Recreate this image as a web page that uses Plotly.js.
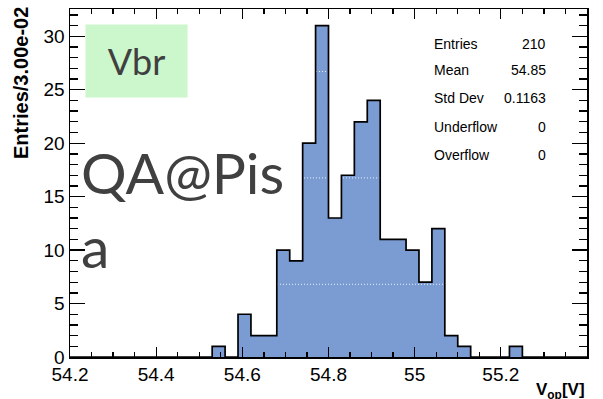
<!DOCTYPE html>
<html>
<head>
<meta charset="utf-8">
<script src="https://cdn.plot.ly/plotly-3.0.1.min.js"></script>
<style>html,body{margin:0;padding:0;background:#fff;}#chart{width:603px;height:399px;}</style>
</head>
<body>
<div id="chart"></div>
<script>
// Histogram definition: 40 bins of width 0.03 from 54.2 to 55.4
const xMin = 54.2;
const binWidth = 0.03;
const counts = [0,0,0,0,0, 0,0,0,0,0, 0,1,0,4,2, 2,10,9,20,31, 13,17,22,24,11, 11,10,7,12,2, 1,0,0,0,1, 0,0,0,0,0];
const statLabels = ["Entries", "Mean", "Std Dev", "Underflow", "Overflow"];
const statValues = ["210", "54.85", "0.1163", "0", "0"];
const xTickVals = [54.2, 54.4, 54.6, 54.8, 55, 55.2, 55.4];
const yTickVals = [0, 5, 10, 15, 20, 25, 30];
const dottedY = [6.8, 16.75, 26.7];

const edges = [];
for (let i = 0; i <= counts.length; i++) edges.push(+(xMin + i * binWidth).toFixed(4));
const stepY = counts.concat([counts[counts.length - 1]]);

const L = 70, R = 587, T = 9, B = 357;
const px = x => (x - L) / (R - L);
const py = y => (B - y) / (B - T);

const dx = [], dy = [];
dottedY.forEach(v => { dx.push(edges[0], edges[edges.length - 1], null); dy.push(v, v, null); });

const traces = [
  {x: edges, y: stepY, type: 'scatter', mode: 'lines', line: {shape: 'hv', width: 0, color: 'rgba(0,0,0,0)'},
   fill: 'tozeroy', fillcolor: '#7b9bd3', hoverinfo: 'skip', showlegend: false},
  {x: dx, y: dy, type: 'scatter', mode: 'lines', line: {color: 'rgba(255,255,255,0.85)', width: 1, dash: '1px,2px'},
   hoverinfo: 'skip', showlegend: false},
  {x: edges, y: stepY, type: 'scatter', mode: 'lines', line: {shape: 'hv', width: 1.7, color: '#000'},
   hoverinfo: 'skip', showlegend: false}
];

const sansFont = 'Liberation Sans, Arial, Helvetica, sans-serif';
const annotations = [];
const rowY = [44, 70, 98, 126.5, 155];
statLabels.forEach((lab, i) => {
  annotations.push({xref: 'paper', yref: 'paper', x: px(432), y: py(rowY[i]), xanchor: 'left', yanchor: 'middle',
    text: lab, showarrow: false, font: {family: sansFont, size: 14, color: '#000'}});
  annotations.push({xref: 'paper', yref: 'paper', x: px(548), y: py(rowY[i]), xanchor: 'right', yanchor: 'middle',
    text: statValues[i], showarrow: false, font: {family: sansFont, size: 14, color: '#000'}});
});
annotations.push({xref: 'paper', yref: 'paper', x: px(136.5), y: py(61), xanchor: 'center', yanchor: 'middle',
  text: 'Vbr', showarrow: false, width: 101, height: 72, bgcolor: '#ccf6cc', borderpad: 0,
  font: {family: 'Lato, sans-serif', size: 36, color: '#404040'}});
annotations.push({xref: 'paper', yref: 'paper', x: px(79), y: py(172), xanchor: 'left', yanchor: 'middle',
  text: 'QA@Pis', showarrow: false, font: {family: 'Lato, sans-serif', size: 57, color: '#404040'}});
annotations.push({xref: 'paper', yref: 'paper', x: px(79), y: py(246), xanchor: 'left', yanchor: 'middle',
  text: 'a', showarrow: false, font: {family: 'Lato, sans-serif', size: 57, color: '#404040'}});
annotations.push({xref: 'paper', yref: 'paper', x: px(21), y: py(161), xanchor: 'center', yanchor: 'bottom',
  textangle: -90, text: '<b>Entries/3.00e-02</b>', showarrow: false, font: {family: sansFont, size: 20, color: '#000'}});
annotations.push({xref: 'paper', yref: 'paper', x: 1, y: py(378), xanchor: 'right', yanchor: 'top',
  text: '<b>V<sub>op</sub>[V]</b>', showarrow: false, font: {family: sansFont, size: 17, color: '#000'}});

const layout = {
  width: 603, height: 399,
  margin: {l: L, r: 603 - R, t: T, b: 399 - B, pad: 0},
  paper_bgcolor: '#fff', plot_bgcolor: '#fff',
  showlegend: false,
  xaxis: {range: [54.2, 55.4], tickmode: 'array', tickvals: xTickVals, ticks: 'inside', ticklen: 10, tickwidth: 1.3,
    tickcolor: '#000', showline: true, linewidth: 1.5, linecolor: '#000', mirror: 'allticks', showgrid: false,
    zeroline: false, tickfont: {family: sansFont, size: 19, color: '#000'},
    minor: {dtick: 0.05, tick0: 54.2, ticks: 'inside', ticklen: 5, tickwidth: 1.3, tickcolor: '#000', showgrid: false}},
  yaxis: {range: [0, 32.55], tickmode: 'array', tickvals: yTickVals, ticks: 'inside', ticklen: 15, tickwidth: 1.3,
    tickcolor: '#000', showline: true, linewidth: 1.5, linecolor: '#000', mirror: 'allticks', showgrid: false,
    zeroline: false, tickfont: {family: sansFont, size: 19, color: '#000'},
    minor: {dtick: 1, tick0: 0, ticks: 'inside', ticklen: 8, tickwidth: 1.3, tickcolor: '#000', showgrid: false}},
  annotations: annotations
};

Plotly.newPlot('chart', traces, layout, {staticPlot: true, displayModeBar: false});
</script>
</body>
</html>
